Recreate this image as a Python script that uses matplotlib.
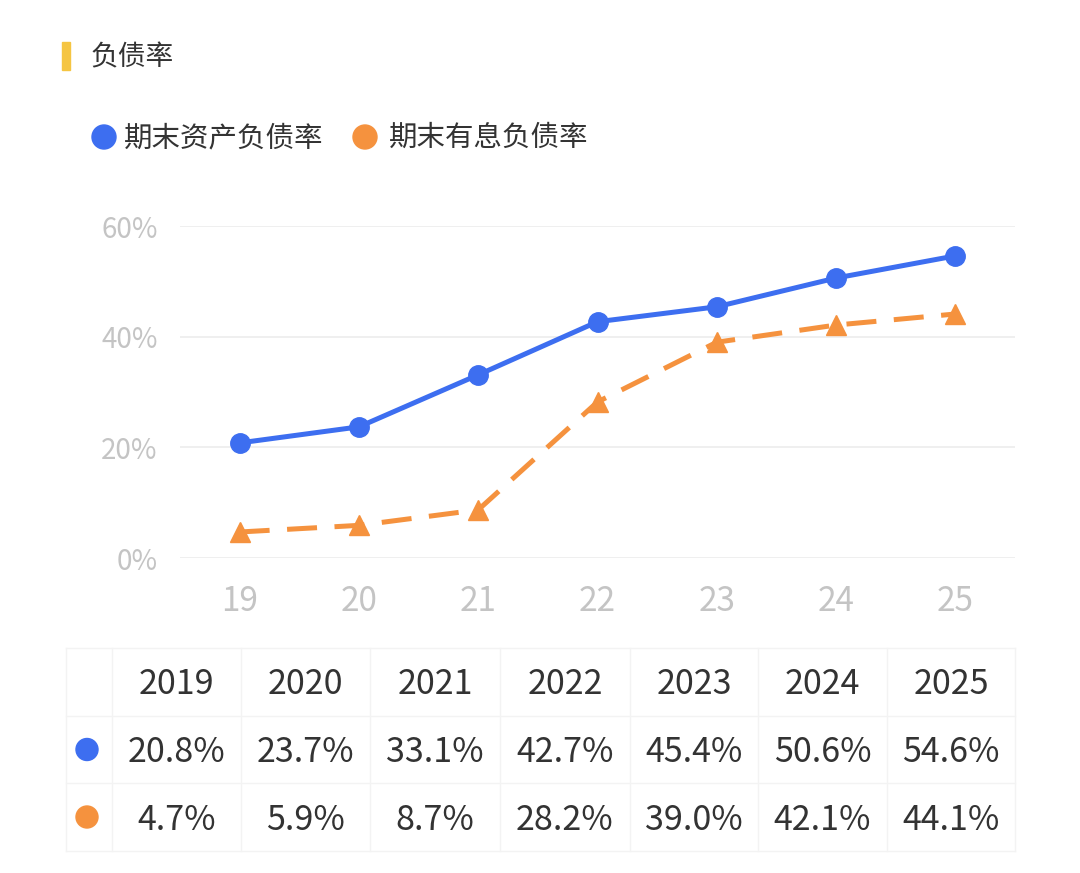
import matplotlib
matplotlib.use("Agg")
import matplotlib.pyplot as plt
from matplotlib.patches import Ellipse, Rectangle

plt.rcParams['font.family'] = ['Noto Sans CJK SC', 'DejaVu Sans']

years = ["2019", "2020", "2021", "2022", "2023", "2024", "2025"]
short_years = ["19", "20", "21", "22", "23", "24", "25"]
asset_ratio = [20.8, 23.7, 33.1, 42.7, 45.4, 50.6, 54.6]
interest_ratio = [4.7, 5.9, 8.7, 28.2, 39.0, 42.1, 44.1]
yticks = [0, 20, 40, 60]
title = "负债率"
names = ["期末资产负债率", "期末有息负债率"]

blue = "#3d6ef0"
orange = "#f5923e"
text_dark = "#333333"
tick_gray = "#c4c4c4"

W, H = 1080, 873
fig = plt.figure(figsize=(W / 100, H / 100), dpi=100)

def fx(px):
    return px / W

def fy(py):
    return 1 - py / H

def dot(cx, cy, r, col):
    # circle given in pixels, drawn in figure coords
    fig.patches.append(Ellipse((fx(cx), fy(cy)), 2 * r / W, 2 * r / H,
                               transform=fig.transFigure, color=col, zorder=3))

# title with yellow bar
fig.patches.append(Rectangle((fx(62), fy(70)), fx(8), 28 / H, transform=fig.transFigure,
                             color="#f5c542", zorder=3))
fig.text(fx(90), fy(57), title, fontsize=20, color=text_dark, va="center", ha="left")

# legend
for cx, tx, col, name in [(104, 124, blue, names[0]), (365, 389, orange, names[1])]:
    dot(cx, 137, 12, col)
    fig.text(fx(tx), fy(138), name, fontsize=20.5, color=text_dark, va="center", ha="left")

# line chart
ax = fig.add_axes([fx(180), fy(558), fx(1015) - fx(180), (558 - 226) / H])
x = list(range(len(years)))
ax.plot(x, asset_ratio, color=blue, lw=3.6, marker="o", markersize=14, clip_on=False, zorder=3)
ax.plot(x, interest_ratio, color=orange, lw=3.6, ls=(0, (6, 3.5)), marker="^", markersize=14,
        clip_on=False, zorder=3)
ax.set_xlim(-0.5, len(years) - 0.5)
ax.set_ylim(0, 60)
ax.set_yticks(yticks)
ax.set_yticklabels([f"{v}%" for v in yticks])
ax.set_xticks(x)
ax.set_xticklabels(short_years)
ax.grid(axis="y", color="#ececec", lw=1.2)
ax.set_axisbelow(True)
for s in ax.spines.values():
    s.set_visible(False)
ax.tick_params(axis="y", length=0, pad=16, labelsize=20, labelcolor=tick_gray)
ax.tick_params(axis="x", length=0, pad=19, labelsize=24, labelcolor=tick_gray)

# table below
col_edges = [66, 112, 241, 370, 500, 630, 758, 887, 1015]
row_edges = [648, 716, 783, 851]
line_col = "#f3f3f3"
for px in col_edges:
    fig.lines.append(plt.Line2D([fx(px), fx(px)], [fy(row_edges[0]), fy(row_edges[-1])],
                                transform=fig.transFigure, color=line_col, lw=1))
for py in row_edges:
    fig.lines.append(plt.Line2D([fx(col_edges[0]), fx(col_edges[-1])], [fy(py), fy(py)],
                                transform=fig.transFigure, color=line_col, lw=1))

centers_x = [(col_edges[i] + col_edges[i + 1]) / 2 for i in range(1, len(col_edges) - 1)]
centers_y = [(row_edges[i] + row_edges[i + 1]) / 2 + 3 for i in range(len(row_edges) - 1)]
first_cx = (col_edges[0] + col_edges[1]) / 2 - 2

for cx, yr in zip(centers_x, years):
    fig.text(fx(cx), fy(centers_y[0]), yr, fontsize=24.5, color=text_dark, ha="center", va="center")
for row, (vals, col) in enumerate([(asset_ratio, blue), (interest_ratio, orange)]):
    cy = centers_y[row + 1]
    dot(first_cx, cy - 3, 11, col)
    for cx, v in zip(centers_x, vals):
        fig.text(fx(cx), fy(cy), f"{v:.1f}%", fontsize=24.5, color=text_dark,
                 ha="center", va="center")

fig.savefig("out.png", dpi=100, facecolor="white")
